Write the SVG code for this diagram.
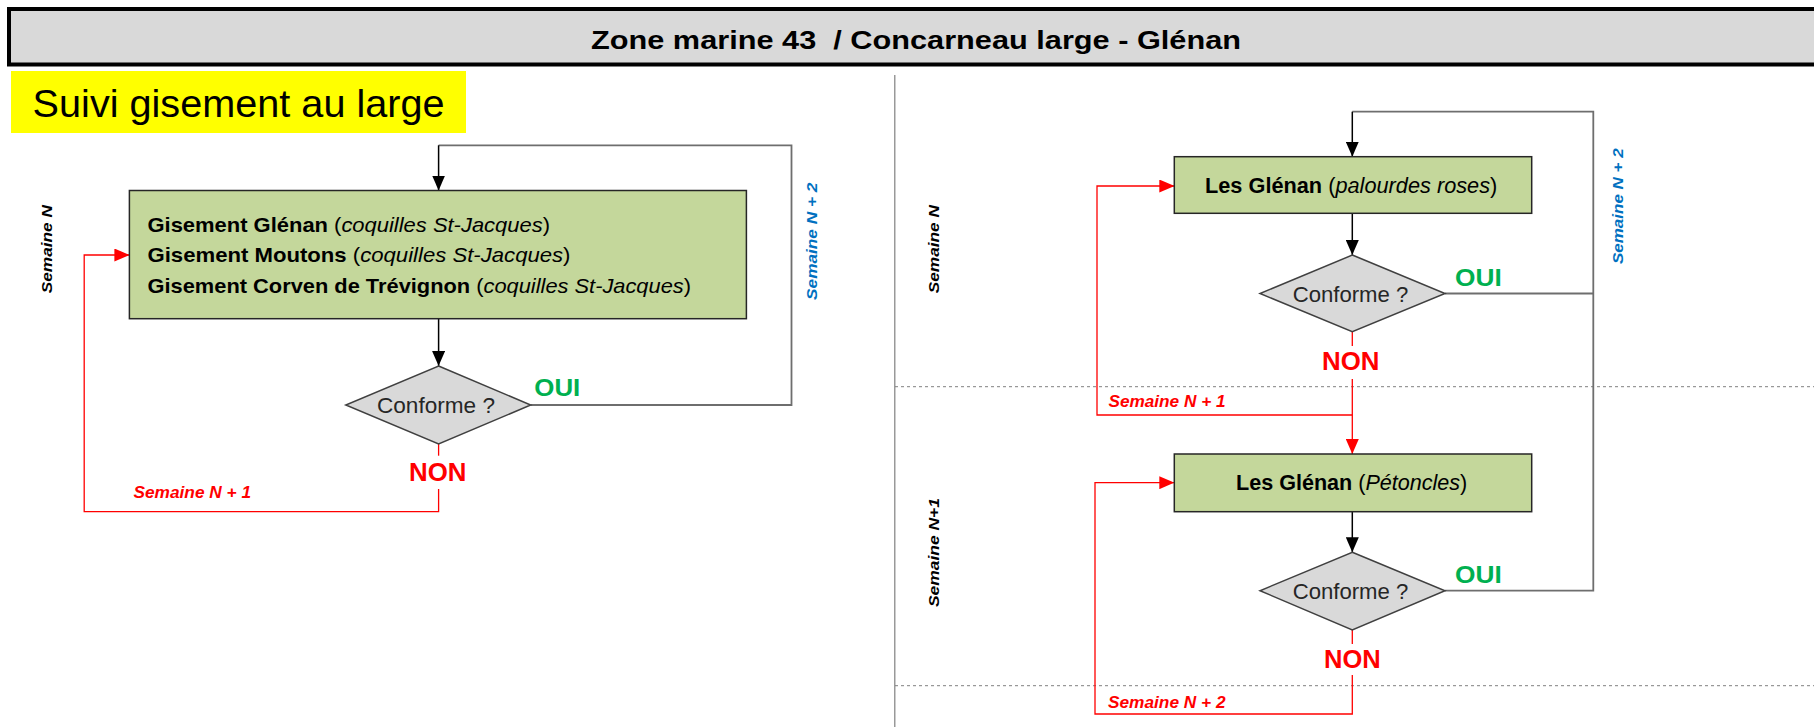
<svg xmlns="http://www.w3.org/2000/svg" width="1814" height="727" viewBox="0 0 1814 727">
<style>
text{font-family:"Liberation Sans",Arial,sans-serif;}
.box{fill:#c4d79b;stroke:#262626;stroke-width:1.5;}
.dia{fill:#d9d9d9;stroke:#404040;stroke-width:1.5;}
.btxt{font-size:21px;fill:#000;}
.btxt2{font-size:22px;fill:#000;}
.cf{font-size:22px;fill:#262626;}
.oui{font-size:24px;font-weight:bold;fill:#00b050;}
.non{font-size:26px;font-weight:bold;fill:#ff0000;}
.rlab{font-size:16px;font-weight:bold;font-style:italic;fill:#ff0000;}
.sem{font-size:14px;font-weight:bold;font-style:italic;fill:#000;}
.semb{font-size:15px;font-weight:bold;font-style:italic;fill:#0070c0;}
.gray{fill:none;stroke:#6e6e6e;stroke-width:1.8;}
.blk{fill:none;stroke:#000;stroke-width:1.5;marker-end:url(#ab);}
.red{fill:none;stroke:#ff0000;stroke-width:1.3;}
.reda{fill:none;stroke:#ff0000;stroke-width:1.3;marker-end:url(#ar);}
.dash{fill:none;stroke:#808080;stroke-width:1;stroke-dasharray:3 3;}
</style>
<defs>
<marker id="ab" markerUnits="userSpaceOnUse" markerWidth="15" markerHeight="13" refX="15" refY="6.5" orient="auto"><path d="M0,0 L15,6.5 L0,13 z" fill="#000"/></marker>
<marker id="ar" markerUnits="userSpaceOnUse" markerWidth="15" markerHeight="13" refX="15" refY="6.5" orient="auto"><path d="M0,0 L15,6.5 L0,13 z" fill="#ff0000"/></marker>
</defs>
<rect width="1814" height="727" fill="#fff"/>
<g id="title">
<rect x="9" y="9" width="1830" height="55.5" fill="#d9d9d9" stroke="#000" stroke-width="4"/>
<text x="591" y="48.5" font-size="25" font-weight="bold" xml:space="preserve" textLength="650" lengthAdjust="spacingAndGlyphs">Zone marine 43  / Concarneau large - Glénan</text>
</g>
<g id="subtitle">
<rect x="11" y="71" width="455" height="62" fill="#ffff00"/>
<text x="32.6" y="116.7" font-size="39.6" textLength="412" lengthAdjust="spacingAndGlyphs">Suivi gisement au large</text>
</g>
<g id="separators">
<path d="M894.8,75 V727" stroke="#808080" stroke-width="1.2" fill="none"/>
<path class="dash" d="M895,386.7 H1814"/>
<path class="dash" d="M895,685.7 H1814"/>
</g>
<g id="connectors">
<path class="gray" d="M530.7,405 H791.5 V145.3 H438.6"/>
<path class="blk" d="M438.6,145.3 V190.5"/>
<path class="blk" d="M438.6,318.7 V366"/>
<path class="red" d="M438.6,444 V455.7"/>
<path class="reda" d="M438.6,489 V511.7 H84.2 V255 H129.4"/>
<path class="gray" d="M1445,293.5 H1593.3"/>
<path class="gray" d="M1445,590.7 H1593.3 V111.7 H1352.3"/>
<path class="blk" d="M1352.3,111.7 V156.7"/>
<path class="blk" d="M1352.3,213.3 V255"/>
<path class="red" d="M1352.3,331.7 V346"/>
<path class="reda" d="M1352.3,379 V454"/>
<path class="reda" d="M1352.3,415 H1097 V186 H1174.3"/>
<path class="blk" d="M1352.3,511.7 V552.3"/>
<path class="red" d="M1352.3,630 V644"/>
<path class="reda" d="M1352.3,675 V714 H1095 V482.7 H1174.3"/>
</g>
<g id="gisements">
<rect class="box" x="129.4" y="190.5" width="617" height="128.2"/>
<text class="btxt" x="147.5" y="231.7" textLength="402.5" lengthAdjust="spacingAndGlyphs"><tspan font-weight="bold">Gisement Glénan</tspan> (<tspan font-style="italic">coquilles St-Jacques</tspan>)</text>
<text class="btxt" x="147.5" y="261.7" textLength="423" lengthAdjust="spacingAndGlyphs"><tspan font-weight="bold">Gisement Moutons</tspan> (<tspan font-style="italic">coquilles St-Jacques</tspan>)</text>
<text class="btxt" x="147.5" y="292.7" textLength="543.5" lengthAdjust="spacingAndGlyphs"><tspan font-weight="bold">Gisement Corven de Trévignon</tspan> (<tspan font-style="italic">coquilles St-Jacques</tspan>)</text>
</g>
<g id="conforme-left">
<polygon class="dia" points="438.6,366 530.7,405 438.6,444 345.8,405"/>
<text class="cf" x="377" y="413.3" textLength="118" lengthAdjust="spacingAndGlyphs">Conforme ?</text>
</g>
<g id="glenan-palourdes">
<rect class="box" x="1174.3" y="156.7" width="357.4" height="56.6"/>
<text class="btxt2" x="1205" y="193.3" textLength="292.3" lengthAdjust="spacingAndGlyphs"><tspan font-weight="bold">Les Glénan</tspan> (<tspan font-style="italic">palourdes roses</tspan>)</text>
</g>
<g id="conforme-right1">
<polygon class="dia" points="1352.3,255 1445,293.5 1352.3,331.7 1260,293.5"/>
<text class="cf" x="1292.7" y="301.7" textLength="115.6" lengthAdjust="spacingAndGlyphs">Conforme ?</text>
</g>
<g id="glenan-petoncles">
<rect class="box" x="1174.3" y="454" width="357.4" height="57.7"/>
<text class="btxt2" x="1236" y="490" textLength="231.3" lengthAdjust="spacingAndGlyphs"><tspan font-weight="bold">Les Glénan</tspan> (<tspan font-style="italic">Pétoncles</tspan>)</text>
</g>
<g id="conforme-right2">
<polygon class="dia" points="1352.3,552.3 1445,590.7 1352.3,630 1260,590.7"/>
<text class="cf" x="1292.7" y="599.3" textLength="115.6" lengthAdjust="spacingAndGlyphs">Conforme ?</text>
</g>
<g id="labels">
<text class="oui" x="534.3" y="396" textLength="46" lengthAdjust="spacingAndGlyphs">OUI</text>
<text class="non" x="409" y="480.7" textLength="57.4" lengthAdjust="spacingAndGlyphs">NON</text>
<text class="rlab" x="133.5" y="498" textLength="117.5" lengthAdjust="spacingAndGlyphs">Semaine N + 1</text>
<text class="oui" x="1455" y="286" textLength="46.7" lengthAdjust="spacingAndGlyphs">OUI</text>
<text class="non" x="1322" y="370" textLength="57.4" lengthAdjust="spacingAndGlyphs">NON</text>
<text class="rlab" x="1108.5" y="406.7" textLength="117" lengthAdjust="spacingAndGlyphs">Semaine N + 1</text>
<text class="oui" x="1455" y="582.7" textLength="46.7" lengthAdjust="spacingAndGlyphs">OUI</text>
<text class="non" x="1324" y="667.7" textLength="56.7" lengthAdjust="spacingAndGlyphs">NON</text>
<text class="rlab" x="1108" y="708" textLength="117.5" lengthAdjust="spacingAndGlyphs">Semaine N + 2</text>
<text class="sem" transform="translate(51.6,249.2) rotate(-90)" text-anchor="middle" textLength="88.3" lengthAdjust="spacingAndGlyphs">Semaine N</text>
<text class="semb" transform="translate(817,241.3) rotate(-90)" text-anchor="middle" textLength="117.3" lengthAdjust="spacingAndGlyphs">Semaine N + 2</text>
<text class="sem" transform="translate(939.4,249.2) rotate(-90)" text-anchor="middle" textLength="88.3" lengthAdjust="spacingAndGlyphs">Semaine N</text>
<text class="semb" transform="translate(1623.3,206.2) rotate(-90)" text-anchor="middle" textLength="115.7" lengthAdjust="spacingAndGlyphs">Semaine N + 2</text>
<text class="sem" transform="translate(939.4,552.5) rotate(-90)" text-anchor="middle" textLength="109" lengthAdjust="spacingAndGlyphs">Semaine N+1</text>
</g>
</svg>
